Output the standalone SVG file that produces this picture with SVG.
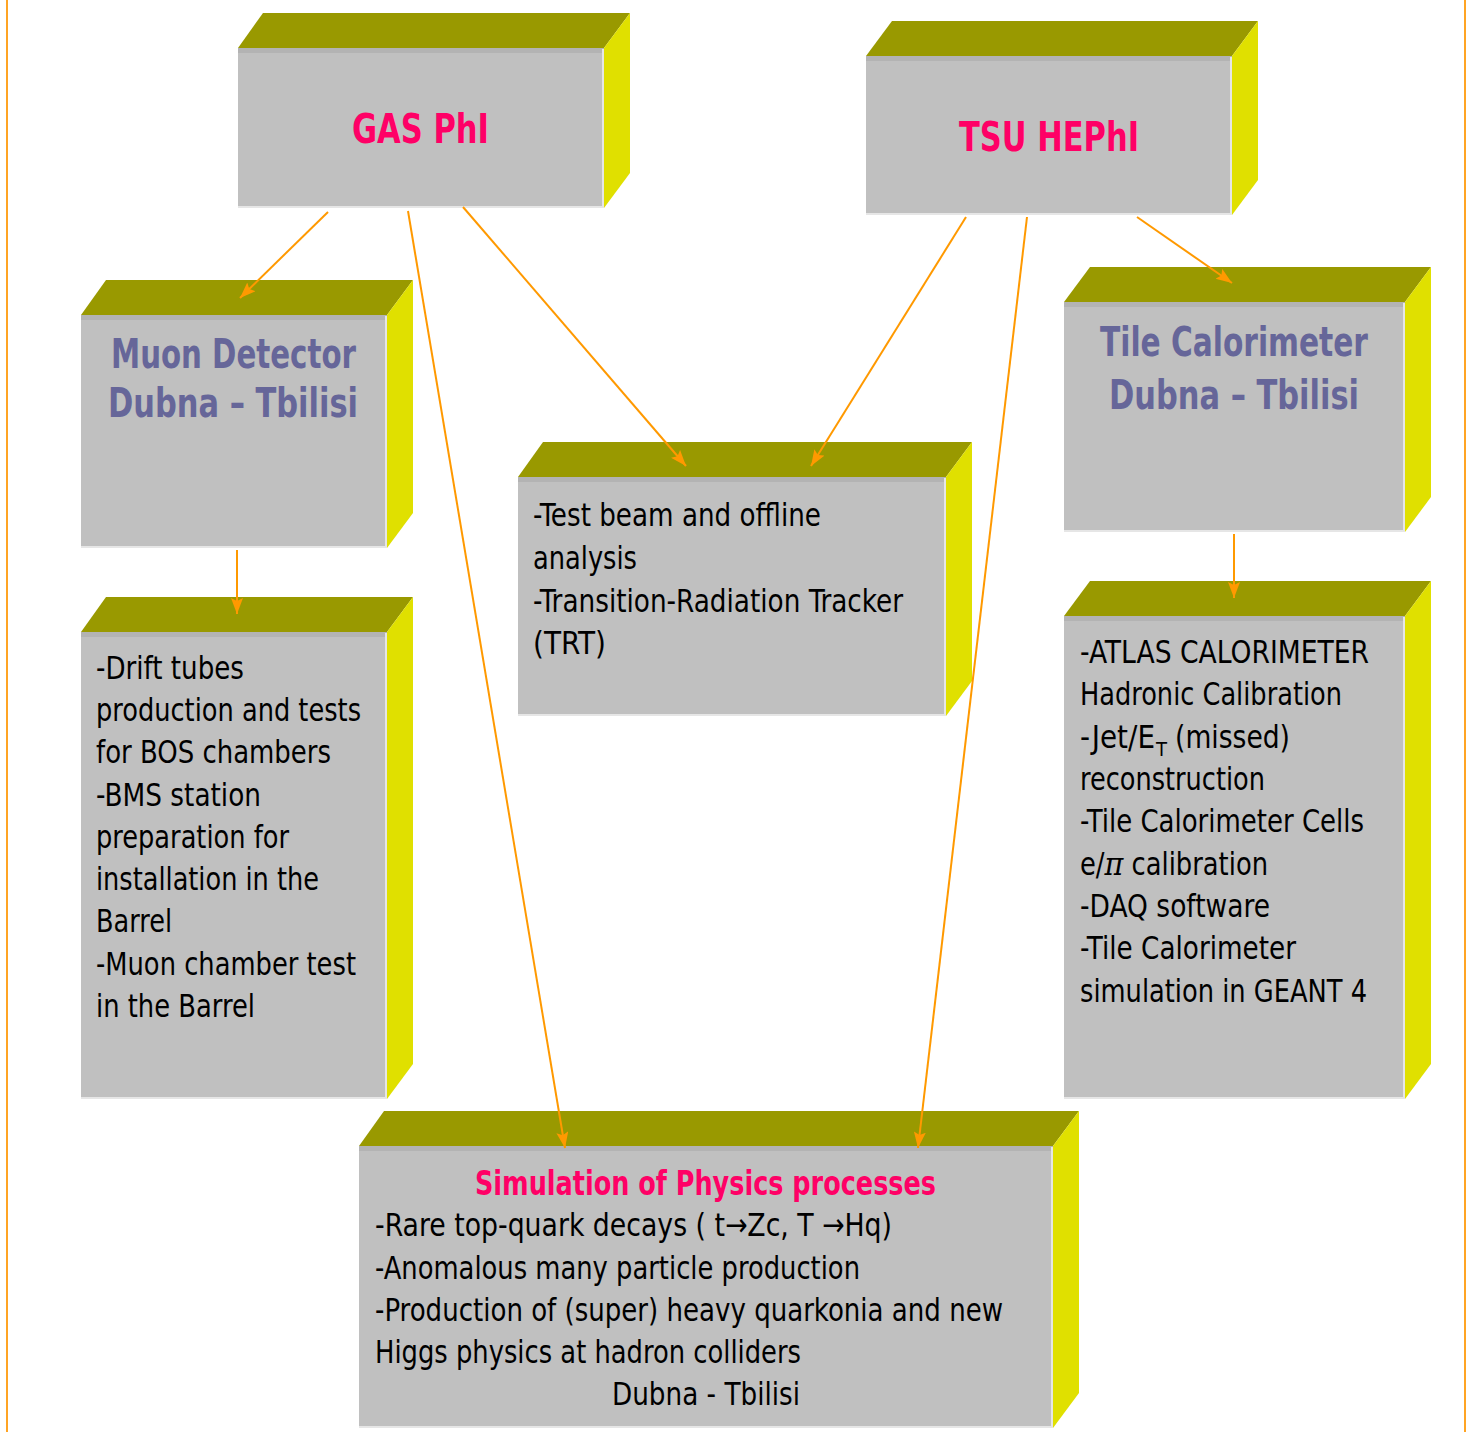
<svg xmlns="http://www.w3.org/2000/svg" width="1472" height="1432" viewBox="0 0 1472 1432">
<style>
.top{fill:#999900}
.side{fill:#E0E000}
.front{fill:#C0C0C0}
.shade{fill:#B3B3B3}
.hl{stroke:#E6E6E6;stroke-width:2;fill:none}
.conn{stroke:#FF9900;stroke-width:2;fill:none;marker-end:url(#ah)}
.hdr{font-family:"DejaVu Sans Condensed","DejaVu Sans",sans-serif;font-weight:bold;font-size:40px}
.pink{fill:#FF0066}
.blue{fill:#666699}
.body{font-family:"DejaVu Sans Condensed","DejaVu Sans",sans-serif;font-size:32px;fill:#000}
.sub{font-family:"DejaVu Sans Condensed","DejaVu Sans",sans-serif;font-size:20px;fill:#000}
.ttl{font-family:"DejaVu Sans Condensed","DejaVu Sans",sans-serif;font-weight:bold;font-size:34px;fill:#FF0066}
.border{stroke:#FFA424;stroke-width:2}
</style>
<defs>
<marker id="ah" markerUnits="userSpaceOnUse" markerWidth="18" markerHeight="14" refX="16" refY="6" orient="auto">
<path d="M0,0 L16,6 L0,12 L3,6 z" fill="#FF9900"/>
</marker>
</defs>
<rect width="1472" height="1432" fill="#FFFFFF"/>
<line class="border" x1="7" y1="0" x2="7" y2="1432"/>
<line class="border" x1="1465" y1="0" x2="1465" y2="1432"/>

<g id="gas-phi">
<polygon class="top" points="238,48 263,13 630,13 604,48"/>
<polygon class="side" points="604,48 630,13 630,173 604,208"/>
<rect class="front" x="238" y="48" width="366" height="160"/>
<rect class="shade" x="238" y="48" width="366" height="5"/>
<polyline class="hl" points="603,49 603,207 238,207"/>
<text class="hdr pink" x="352" y="143" textLength="137" lengthAdjust="spacingAndGlyphs">GAS PhI</text>
</g>

<g id="tsu-hephi">
<polygon class="top" points="866,56 892,21 1258,21 1232,56"/>
<polygon class="side" points="1232,56 1258,21 1258,180 1232,215"/>
<rect class="front" x="866" y="56" width="366" height="159"/>
<rect class="shade" x="866" y="56" width="366" height="5"/>
<polyline class="hl" points="1231,57 1231,214 866,214"/>
<text class="hdr pink" x="959" y="151" textLength="180" lengthAdjust="spacingAndGlyphs">TSU HEPhI</text>
</g>

<g id="muon-detector">
<polygon class="top" points="81,315 106,280 413,280 387,315"/>
<polygon class="side" points="387,315 413,280 413,513 387,548"/>
<rect class="front" x="81" y="315" width="306" height="233"/>
<rect class="shade" x="81" y="315" width="306" height="5"/>
<polyline class="hl" points="386,316 386,547 81,547"/>
<text class="hdr blue" x="111" y="368" textLength="245" lengthAdjust="spacingAndGlyphs">Muon Detector</text>
<text class="hdr blue" x="108" y="417" textLength="250" lengthAdjust="spacingAndGlyphs">Dubna – Tbilisi</text>
</g>

<g id="muon-tasks">
<polygon class="top" points="81,632 106,597 413,597 387,632"/>
<polygon class="side" points="387,632 413,597 413,1064 387,1099"/>
<rect class="front" x="81" y="632" width="306" height="467"/>
<rect class="shade" x="81" y="632" width="306" height="5"/>
<polyline class="hl" points="386,633 386,1098 81,1098"/>
<text class="body" x="96" y="679" textLength="148" lengthAdjust="spacingAndGlyphs">-Drift tubes</text>
<text class="body" x="96" y="721" textLength="265" lengthAdjust="spacingAndGlyphs">production and tests</text>
<text class="body" x="96" y="763" textLength="235" lengthAdjust="spacingAndGlyphs">for BOS chambers</text>
<text class="body" x="96" y="806" textLength="165" lengthAdjust="spacingAndGlyphs">-BMS station</text>
<text class="body" x="96" y="848" textLength="193" lengthAdjust="spacingAndGlyphs">preparation for</text>
<text class="body" x="96" y="890" textLength="223" lengthAdjust="spacingAndGlyphs">installation in the</text>
<text class="body" x="96" y="932" textLength="76" lengthAdjust="spacingAndGlyphs">Barrel</text>
<text class="body" x="96" y="975" textLength="260" lengthAdjust="spacingAndGlyphs">-Muon chamber test</text>
<text class="body" x="96" y="1017" textLength="159" lengthAdjust="spacingAndGlyphs">in the Barrel</text>
</g>

<g id="test-beam">
<polygon class="top" points="518,477 543,442 972,442 946,477"/>
<polygon class="side" points="946,477 972,442 972,681 946,716"/>
<rect class="front" x="518" y="477" width="428" height="239"/>
<rect class="shade" x="518" y="477" width="428" height="5"/>
<polyline class="hl" points="945,478 945,715 518,715"/>
<text class="body" x="533" y="526" textLength="288" lengthAdjust="spacingAndGlyphs">-Test beam and offline</text>
<text class="body" x="533" y="569" textLength="104" lengthAdjust="spacingAndGlyphs">analysis</text>
<text class="body" x="533" y="612" textLength="370" lengthAdjust="spacingAndGlyphs">-Transition-Radiation Tracker</text>
<text class="body" x="533" y="654" textLength="73" lengthAdjust="spacingAndGlyphs">(TRT)</text>
</g>

<g id="tile-calorimeter">
<polygon class="top" points="1064,302 1090,267 1431,267 1405,302"/>
<polygon class="side" points="1405,302 1431,267 1431,497 1405,532"/>
<rect class="front" x="1064" y="302" width="341" height="230"/>
<rect class="shade" x="1064" y="302" width="341" height="5"/>
<polyline class="hl" points="1404,303 1404,531 1064,531"/>
<text class="hdr blue" x="1100" y="356" textLength="268" lengthAdjust="spacingAndGlyphs">Tile Calorimeter</text>
<text class="hdr blue" x="1109" y="409" textLength="250" lengthAdjust="spacingAndGlyphs">Dubna – Tbilisi</text>
</g>

<g id="atlas-tasks">
<polygon class="top" points="1064,616 1090,581 1431,581 1405,616"/>
<polygon class="side" points="1405,616 1431,581 1431,1064 1405,1099"/>
<rect class="front" x="1064" y="616" width="341" height="483"/>
<rect class="shade" x="1064" y="616" width="341" height="5"/>
<polyline class="hl" points="1404,617 1404,1098 1064,1098"/>
<text class="body" x="1080" y="663" textLength="289" lengthAdjust="spacingAndGlyphs">-ATLAS CALORIMETER</text>
<text class="body" x="1080" y="705" textLength="262" lengthAdjust="spacingAndGlyphs">Hadronic Calibration</text>
<text class="body" x="1080" y="748" textLength="75" lengthAdjust="spacingAndGlyphs">-Jet/E</text>
<text class="sub" x="1156" y="756" textLength="11" lengthAdjust="spacingAndGlyphs">T</text>
<text class="body" x="1175" y="748" textLength="115" lengthAdjust="spacingAndGlyphs">(missed)</text>
<text class="body" x="1080" y="790" textLength="185" lengthAdjust="spacingAndGlyphs">reconstruction</text>
<text class="body" x="1080" y="832" textLength="284" lengthAdjust="spacingAndGlyphs">-Tile Calorimeter Cells</text>
<text class="body" x="1080" y="875" textLength="188" lengthAdjust="spacingAndGlyphs">e/<tspan font-family="DejaVu Serif, serif" font-style="italic">π</tspan> calibration</text>
<text class="body" x="1080" y="917" textLength="190" lengthAdjust="spacingAndGlyphs">-DAQ software</text>
<text class="body" x="1080" y="959" textLength="216" lengthAdjust="spacingAndGlyphs">-Tile Calorimeter</text>
<text class="body" x="1080" y="1002" textLength="287" lengthAdjust="spacingAndGlyphs">simulation in GEANT 4</text>
</g>

<g id="simulation">
<polygon class="top" points="359,1146 384,1111 1079,1111 1053,1146"/>
<polygon class="side" points="1053,1146 1079,1111 1079,1393 1053,1428"/>
<rect class="front" x="359" y="1146" width="694" height="282"/>
<rect class="shade" x="359" y="1146" width="694" height="5"/>
<polyline class="hl" points="1052,1147 1052,1427 359,1427"/>
<text class="ttl" x="475" y="1195" textLength="461" lengthAdjust="spacingAndGlyphs">Simulation of Physics processes</text>
<text class="body" x="375" y="1236" textLength="517" lengthAdjust="spacingAndGlyphs">-Rare top-quark decays ( t→Zc, T →Hq)</text>
<text class="body" x="375" y="1279" textLength="485" lengthAdjust="spacingAndGlyphs">-Anomalous many particle production</text>
<text class="body" x="375" y="1321" textLength="628" lengthAdjust="spacingAndGlyphs">-Production of (super) heavy quarkonia and new</text>
<text class="body" x="375" y="1363" textLength="426" lengthAdjust="spacingAndGlyphs">Higgs physics at hadron colliders</text>
<text class="body" x="612" y="1405" textLength="188" lengthAdjust="spacingAndGlyphs">Dubna - Tbilisi</text>
</g>

<g id="connectors">
<line class="conn" x1="328" y1="212" x2="240" y2="298"/>
<line class="conn" x1="408" y1="211" x2="565" y2="1148"/>
<line class="conn" x1="463" y1="207" x2="686" y2="466"/>
<line class="conn" x1="966" y1="217" x2="811" y2="466"/>
<line class="conn" x1="1027" y1="217" x2="918" y2="1148"/>
<line class="conn" x1="1137" y1="217" x2="1232" y2="283"/>
<line class="conn" x1="237" y1="550" x2="237" y2="614"/>
<line class="conn" x1="1234" y1="534" x2="1234" y2="598"/>
</g>
</svg>
